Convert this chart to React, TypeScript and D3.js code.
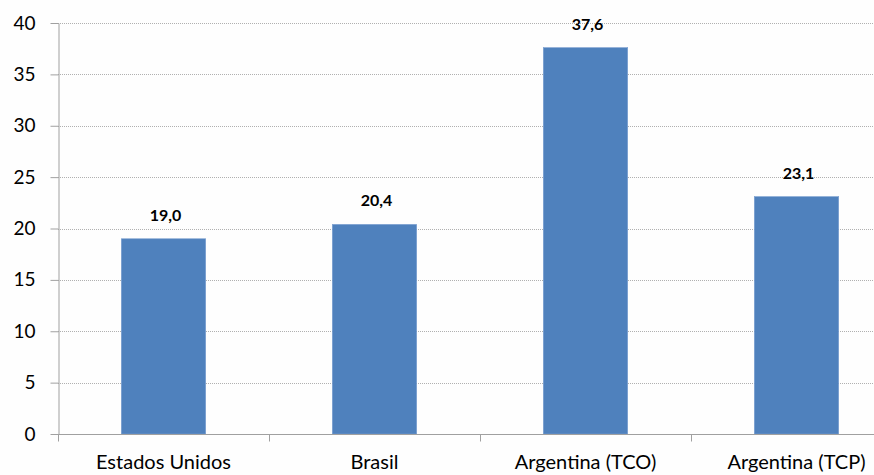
import { useEffect, useRef } from "react";
import * as d3 from "d3";

const categories = ["Estados Unidos", "Brasil", "Argentina (TCO)", "Argentina (TCP)"];
const values = [19.0, 20.4, 37.6, 23.1];
const yTicks = [0, 5, 10, 15, 20, 25, 30, 35, 40];

export default function App() {
  const svgRef = useRef<SVGSVGElement>(null);

  useEffect(() => {
    if (!svgRef.current) return;
    const svg = d3.select(svgRef.current);
    svg.selectAll("*").remove();

    const width = 874;
    const height = 475;
    const margin = { top: 23, left: 58, bottom: 41 };
    const plotRight = 902; // plot runs past the picture's right edge
    const innerH = height - margin.top - margin.bottom;
    const font = "Lato, 'Open Sans', sans-serif";

    svg.append("rect").attr("width", width).attr("height", height).attr("fill", "#fefefe");

    const x = d3.scaleBand().domain(categories).range([margin.left, plotRight]).paddingInner(0.6).paddingOuter(0.3);
    const y = d3.scaleLinear().domain([0, 40]).range([margin.top + innerH, margin.top]);

    // gridlines
    svg.append("g")
      .selectAll("line")
      .data(yTicks.filter((t) => t > 0))
      .enter()
      .append("line")
      .attr("x1", margin.left)
      .attr("x2", width)
      .attr("y1", (d) => Math.round(y(d)) + 0.5)
      .attr("y2", (d) => Math.round(y(d)) + 0.5)
      .attr("stroke", "#b0b0b0")
      .attr("stroke-width", 1)
      .attr("stroke-dasharray", "1,1");

    // bars
    svg.append("g")
      .selectAll("rect")
      .data(values)
      .enter()
      .append("rect")
      .attr("x", (_, i) => x(categories[i])!)
      .attr("y", (d) => y(d))
      .attr("width", x.bandwidth())
      .attr("height", (d) => y(0) - y(d))
      .attr("fill", "#4f81bd")
      .attr("stroke", "#7a9fd0")
      .attr("stroke-width", 0.6);

    // value labels
    svg.append("g")
      .selectAll("text")
      .data(values)
      .enter()
      .append("text")
      .attr("x", (_, i) => x(categories[i])! + x.bandwidth() / 2 + 2)
      .attr("y", (d) => y(d) - 18)
      .attr("text-anchor", "middle")
      .attr("font-family", font)
      .attr("font-weight", "bold")
      .attr("font-size", "16px")
      .attr("fill", "#000")
      .text((d) => d.toFixed(1).replace(".", ","));

    // y axis
    const yAxis = svg.append("g").attr("transform", `translate(${margin.left + 0.5},0)`)
      .call(d3.axisLeft(y).tickValues(yTicks).tickSize(8).tickPadding(15).tickSizeOuter(0));
    yAxis.select(".domain").attr("stroke", "#a0a0a0");
    yAxis.selectAll(".tick line").attr("stroke", "#a0a0a0");
    yAxis.selectAll("text").attr("font-family", font).attr("font-size", "19px").attr("fill", "#000");

    // x axis
    const baseY = Math.round(y(0)) + 0.5;
    svg.append("line").attr("x1", margin.left).attr("x2", width).attr("y1", baseY).attr("y2", baseY)
      .attr("stroke", "#a0a0a0");
    const bounds = d3.range(0, categories.length).map((i) => margin.left + (plotRight - margin.left) * i / categories.length);
    svg.append("g").selectAll("line").data(bounds).enter().append("line")
      .attr("x1", (d) => Math.round(d) + 0.5).attr("x2", (d) => Math.round(d) + 0.5)
      .attr("y1", baseY).attr("y2", baseY + 7)
      .attr("stroke", "#a0a0a0");

    svg.append("g")
      .selectAll("text")
      .data(categories)
      .enter()
      .append("text")
      .attr("x", (d) => x(d)! + x.bandwidth() / 2)
      .attr("y", 469)
      .attr("text-anchor", "middle")
      .attr("font-family", font)
      .attr("font-size", "20px")
      .attr("fill", "#000")
      .text((d) => d);
  }, []);

  return (
    <svg
      ref={svgRef}
      width={874}
      height={475}
      style={{ position: "absolute", left: 0, top: 0, display: "block" }}
    />
  );
}
